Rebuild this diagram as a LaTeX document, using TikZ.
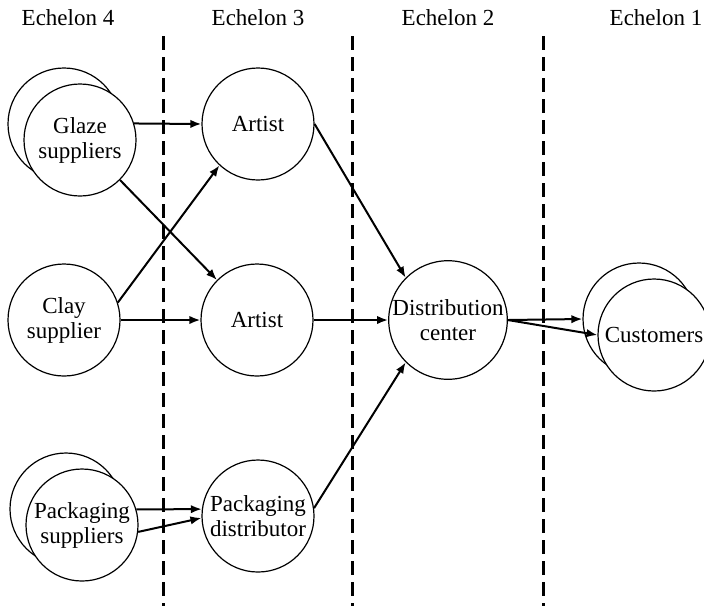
\documentclass[tikz,border=0pt]{standalone}
\usepackage{fontspec}
\setmainfont{Liberation Serif}
\usetikzlibrary{arrows.meta}
\begin{document}
\begin{tikzpicture}[x=0.5pt, y=-0.5pt, >={Latex[length=5.5pt,width=4.2pt]}, font=\fontsize{11.5}{12.5}\selectfont, line join=round,
    site/.style={circle, draw, line width=0.6pt, minimum size=56pt, inner sep=0pt, align=center, fill=white},
    flow/.style={->, line width=1pt},
    divider/.style={line width=1.5pt, dash pattern=on 7pt off 3.5pt}]
            \useasboundingbox (0,0) rectangle (704,606);
            \foreach \xd in {163,352,543}{
                \draw[divider] (\xd,36)--(\xd,606);
            }
            \node (ech4) at (68,18) {Echelon 4};
            \node (ech3) at (258,18) {Echelon 3};
            \node (ech2) at (448,18) {Echelon 2};
            \node (ech1) at (656,18) {Echelon 1};
            \node[site] (glazeback) at (64,124) {};
            \node[site] (glaze) at (80,140) {Glaze\\suppliers};
            \node[site] (clay) at (64,320) {Clay\\supplier};
            \node[site] (psupback) at (66,509) {};
            \node[site] (psup) at (82,525) {Packaging\\suppliers};
            \node[site] (art1) at (258,124) {Artist};
            \node[site] (art2) at (257,320) {Artist};
            \node[site] (pdist) at (258,516) {Packaging\\distributor};
            \node[site] (dist) at (448,320) {Distribution\\center};
            \node[site] (custback) at (639,319) {};
            \node[site] (cust) at (654,335) {Customers};
            \draw[flow] (glaze.17)--(art1.west);
            \draw[flow] (glaze.-45)--(art2.135);
            \draw[flow] (clay.18)--(art1.-133);
            \draw[flow] (clay.east)--(art2.west);
            \draw[flow] (psup.16)--(pdist.173);
            \draw[flow] (psup.-7)--(pdist.182);
            \draw[flow] (art1.east)--(dist.135);
            \draw[flow] (art2.east)--(dist.west);
            \draw[flow] (pdist.8)--(dist.-135);
            \draw[flow] (dist.east)--(custback.west);
            \draw[flow] (dist.east)--(cust.west);
        \end{tikzpicture}
\end{document}
